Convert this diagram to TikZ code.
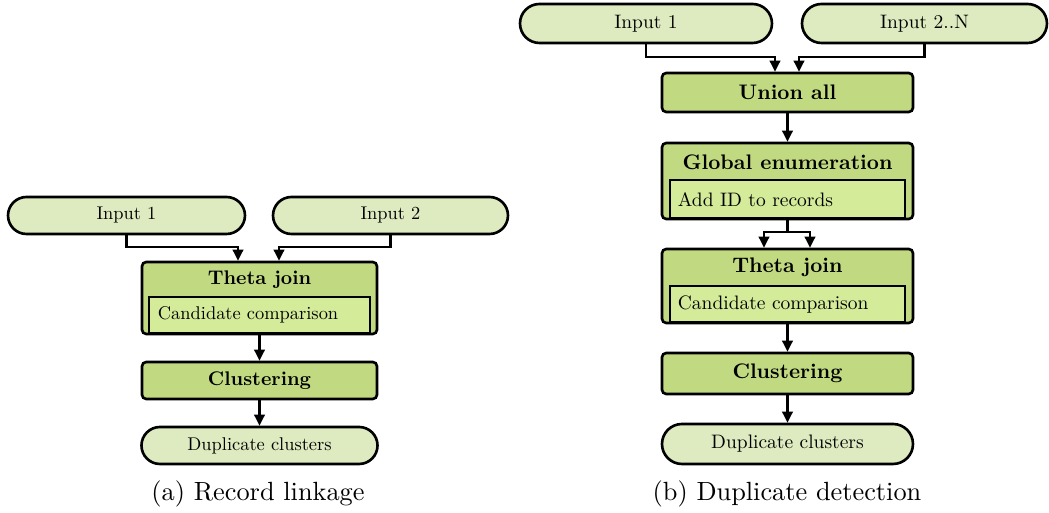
\documentclass[tikz,border=0pt]{standalone}
\usepackage{graphicx}
\usetikzlibrary{arrows.meta,calc}

\definecolor{iofill}{HTML}{DEEBC0}
\definecolor{opfill}{HTML}{C1D980}
\definecolor{subfill}{HTML}{D4EB99}

% text of the two panels: 10pt type scaled down as a whole
\newcommand\regA[1]{\scalebox{0.70}{\fontsize{10}{12}\selectfont #1}}
\newcommand\bldA[1]{\scalebox{0.75}{\fontsize{10}{12}\selectfont\bfseries #1}}
\newcommand\regB[1]{\scalebox{0.74}{\fontsize{10}{12}\selectfont #1}}
\newcommand\bldB[1]{\scalebox{0.80}{\fontsize{10}{12}\selectfont\bfseries #1}}

\tikzset{
  iobox/.style={draw=black, line width=1pt, fill=iofill, inner sep=0pt},
  opbox/.style={draw=black, line width=1pt, fill=opfill, rounded corners=1.6pt, inner sep=0pt},
  subbox/.style={draw=black, line width=0.6pt, fill=subfill, inner sep=0pt, anchor=south, align=left},
  optitle/.style={inner sep=0pt},
  flow/.style={line width=0.85pt, -{Triangle[length=4.2pt,width=4pt]}},
  wire/.style={line width=0.85pt},
  capt/.style={inner sep=0pt, font=\fontsize{10}{12}\selectfont}
}

\begin{document}
\begin{tikzpicture}[x=0.38pt, y=-0.38pt]
\useasboundingbox (0,0) rectangle (1049,513);

% ---------- (a) Record linkage ----------
\node[iobox, minimum width=90.06pt, minimum height=14.06pt, rounded corners=7.03pt]
  (in1L) at (126.5,215.5) {\regA{Input 1}};
\node[iobox, minimum width=89.3pt, minimum height=14.06pt, rounded corners=7.03pt]
  (in2L) at (390.5,215.5) {\regA{Input 2}};

\node[opbox, minimum width=89.3pt, minimum height=27.36pt] (tjL) at (259.5,298) {};
\node[optitle] (tjLt) at (259.5,280) {\bldA{Theta join}};
\node[subbox, text width=77.2pt, inner xsep=3.4pt, minimum height=13.68pt]
  (tjLs) at ([yshift=0.5pt]tjL.south) {\regA{Candidate comparison}};

\node[opbox, minimum width=89.3pt, minimum height=14.06pt] (clL) at (259.5,380.5) {};
\node[optitle] (clLt) at (clL.center) {\bldA{Clustering}};

\node[iobox, minimum width=89.7pt, minimum height=14.06pt, rounded corners=7.03pt]
  (dupL) at (259.5,445.5) {\regA{Duplicate clusters}};

\draw[flow] (in1L.south) -- ++(0,12) -| ($(tjL.north)+(-21.5,0)$);
\draw[flow] (in2L.south) -- ++(0,12) -| ($(tjL.north)+(19.5,0)$);
\draw[flow] (tjL.south) -- (clL.north);
\draw[flow] (clL.south) -- (dupL.north);

\node[capt] (capA) at (258,494) {(a) Record linkage};

% ---------- (b) Duplicate detection ----------
\node[iobox, minimum width=95.76pt, minimum height=14.82pt, rounded corners=7.41pt]
  (in1R) at (646,23.5) {\regB{Input 1}};
\node[iobox, minimum width=93.1pt, minimum height=14.82pt, rounded corners=7.41pt]
  (in2R) at (924.5,23.5) {\regB{Input 2..N}};

\node[opbox, minimum width=95.38pt, minimum height=14.82pt] (uaR) at (787.5,92.5) {};
\node[optitle] (uaRt) at (uaR.center) {\bldB{Union all}};

\node[opbox, minimum width=95.38pt, minimum height=28.88pt] (geR) at (787.5,181) {};
\node[optitle] (geRt) at (787.5,162.5) {\bldB{Global enumeration}};
\node[subbox, text width=83.3pt, inner xsep=3pt, minimum height=14.44pt]
  (geRs) at ([yshift=0.5pt]geR.south) {\regB{Add ID to records}};

\node[opbox, minimum width=95.38pt, minimum height=28.12pt] (tjR) at (787.5,286) {};
\node[optitle] (tjRt) at (787.5,267) {\bldB{Theta join}};
\node[subbox, text width=83.3pt, inner xsep=3pt, minimum height=13.68pt]
  (tjRs) at ([yshift=0.5pt]tjR.south) {\regB{Candidate comparison}};

\node[opbox, minimum width=95.38pt, minimum height=15.58pt] (clR) at (787.5,373.5) {};
\node[optitle] (clRt) at (clR.center) {\bldB{Clustering}};

\node[iobox, minimum width=95.38pt, minimum height=15.2pt, rounded corners=7.6pt]
  (dupR) at (787.5,444) {\regB{Duplicate clusters}};

\draw[flow] (in1R.south) -- ++(0,13) -| ($(uaR.north)+(-12.5,0)$);
\draw[flow] (in2R.south) -- ++(0,13) -| ($(uaR.north)+(11.5,0)$);
\draw[flow] (uaR.south) -- (geR.north);
\draw[wire] (geR.south) -- ++(0,12) coordinate (split);
\draw[flow] (split) -| ($(tjR.north)+(-23.5,0)$);
\draw[flow] (split) -| ($(tjR.north)+(22.5,0)$);
\draw[flow] (tjR.south) -- (clR.north);
\draw[flow] (clR.south) -- (dupR.north);

\node[capt] (capB) at (787,494) {(b) Duplicate detection};
\end{tikzpicture}
\end{document}
